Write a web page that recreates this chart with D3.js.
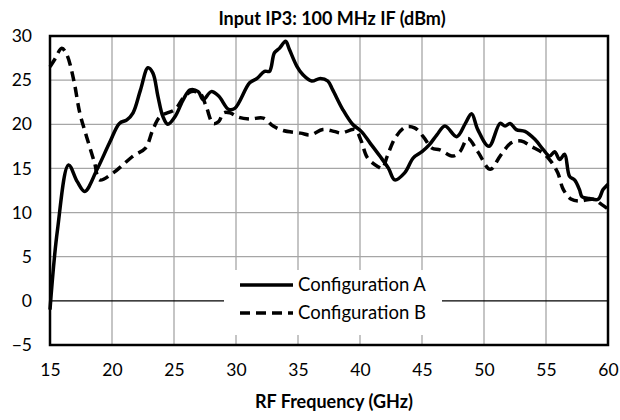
<!DOCTYPE html>
<html>
<head>
<meta charset="utf-8">
<script src="https://cdn.jsdelivr.net/npm/d3@7"></script>
<style>
  body { margin: 0; background: #fff; }
  text { font-family: Lato, "Open Sans", sans-serif; fill: #000; }
</style>
</head>
<body>
<div id="chart"></div>
<script>
// RF frequency (GHz) and input IP3 (dBm)
const freqA = [15, 15.6, 16.5, 17.2, 17.8, 18.8, 19.8, 20.6, 21.2, 21.7, 22.3, 22.9, 23.3, 23.7, 24.1, 24.5, 25.1, 25.75, 26.3, 26.95, 27.35, 28.0, 28.6, 29.4, 29.9, 31.1, 31.7, 32.3, 32.7, 33.1, 33.5, 34.0, 34.3, 34.9, 35.4, 36.1, 36.8, 37.4, 37.8, 38.6, 39.4, 40.1, 40.8, 41.6, 42.3, 42.8, 43.6, 44.3, 45.0, 45.6, 46.2, 46.85, 47.8, 48.5, 49.0, 49.5, 50.4, 51.3, 51.7, 52.1, 52.6, 53.3, 54.1, 54.8, 55.3, 55.7, 56.1, 56.5, 56.9, 57.3, 57.7, 57.9, 58.5, 59.2, 59.6, 60];
const ip3A = [-1, 8, 15.4, 13.5, 12.4, 14.9, 17.9, 20.1, 20.5, 21.3, 23.9, 26.4, 25.8, 23.2, 20.9, 20.0, 20.9, 22.8, 23.9, 23.7, 22.8, 23.7, 23.2, 21.7, 21.8, 24.7, 25.2, 26.0, 26.0, 28.1, 28.6, 29.4, 28.5, 26.6, 25.6, 24.9, 25.2, 24.9, 23.9, 21.7, 20.0, 19.2, 17.9, 16.4, 15.0, 13.7, 14.5, 16.2, 16.9, 17.7, 18.8, 19.8, 18.6, 20.1, 21.2, 19.4, 17.5, 20.1, 19.8, 20.1, 19.4, 19.2, 18.3, 17.1, 16.4, 16.9, 16.0, 16.6, 14.1, 13.7, 12.6, 11.8, 11.6, 11.5, 12.6, 13.2];

const freqB = [15, 15.4, 15.95, 16.35, 16.9, 17.4, 17.95, 18.6, 19.0, 20.1, 21.7, 22.7, 23.3, 23.9, 25.1, 25.75, 26.4, 27.1, 27.6, 28.15, 28.6, 29.0, 29.5, 30.2, 31.1, 32.2, 33.0, 33.8, 35.2, 36.0, 37.0, 37.9, 38.5, 39.6, 40.1, 40.6, 41.45, 41.8, 42.2, 42.9, 43.7, 44.4, 45.1, 45.8, 46.45, 47.5, 48.06, 48.7, 49.5, 50.5, 51.3, 52.2, 53.0, 53.8, 54.8, 55.4, 55.95, 56.4, 57.05, 57.7, 58.8, 59.5, 60];
const ip3B = [26.5, 27.4, 28.6, 27.9, 25.1, 21.3, 18.6, 15.6, 13.7, 14.5, 16.4, 17.3, 19.4, 20.9, 21.7, 23.0, 23.7, 23.5, 22.0, 20.1, 20.3, 21.3, 21.3, 20.8, 20.6, 20.7, 19.8, 19.3, 19.0, 18.8, 19.4, 19.2, 19.0, 19.4, 18.1, 16.2, 15.2, 15.0, 16.4, 18.6, 19.7, 19.6, 18.6, 17.3, 17.1, 16.4, 16.9, 18.4, 16.9, 14.9, 16.4, 17.9, 18.1, 17.5, 16.7, 15.8, 14.5, 12.6, 11.5, 11.3, 11.5, 10.9, 10.4];

const xTicks = [15, 20, 25, 30, 35, 40, 45, 50, 55, 60];
const yTicks = [-5, 0, 5, 10, 15, 20, 25, 30];
const seriesNames = ["Configuration A", "Configuration B"];

const width = 620, height = 420;
const plot = { left: 50, right: 608, top: 36, bottom: 345 };

const svg = d3.select("#chart").append("svg")
    .attr("width", width)
    .attr("height", height);

const x = d3.scaleLinear().domain([15, 60]).range([plot.left, plot.right]);
const y = d3.scaleLinear().domain([-5, 30]).range([plot.bottom, plot.top]);

// gridlines
svg.append("g")
    .selectAll("line.vgrid")
    .data(xTicks.slice(1, -1))
    .join("line")
    .attr("x1", d => x(d)).attr("x2", d => x(d))
    .attr("y1", plot.top).attr("y2", plot.bottom)
    .attr("stroke", "#a6a6a6").attr("stroke-width", 1.3);

svg.append("g")
    .selectAll("line.hgrid")
    .data(yTicks.filter(d => d !== 0 && d !== -5 && d !== 30))
    .join("line")
    .attr("x1", plot.left).attr("x2", plot.right)
    .attr("y1", d => y(d)).attr("y2", d => y(d))
    .attr("stroke", "#a6a6a6").attr("stroke-width", 1.3);

// zero line
svg.append("line")
    .attr("x1", plot.left).attr("x2", plot.right)
    .attr("y1", y(0)).attr("y2", y(0))
    .attr("stroke", "#000").attr("stroke-width", 1.3);

// legend background knocks out the grid
const legend = svg.append("g");
legend.append("rect")
    .attr("x", 224).attr("y", 270)
    .attr("width", 218).attr("height", 65)
    .attr("fill", "#fff");

// series
const line = d3.line()
    .x(d => x(d[0]))
    .y(d => y(d[1]))
    .curve(d3.curveCatmullRom.alpha(0.5));

svg.append("path")
    .datum(freqB.map((f, i) => [f, ip3B[i]]))
    .attr("d", line)
    .attr("fill", "none")
    .attr("stroke", "#000")
    .attr("stroke-width", 3.5)
    .attr("stroke-dasharray", "10,6");

svg.append("path")
    .datum(freqA.map((f, i) => [f, ip3A[i]]))
    .attr("d", line)
    .attr("fill", "none")
    .attr("stroke", "#000")
    .attr("stroke-width", 3.5)
    .attr("stroke-linejoin", "round");

// plot border
svg.append("rect")
    .attr("x", plot.left).attr("y", plot.top)
    .attr("width", plot.right - plot.left)
    .attr("height", plot.bottom - plot.top)
    .attr("fill", "none")
    .attr("stroke", "#000")
    .attr("stroke-width", 2.5);

// axes
const xAxis = svg.append("g")
    .attr("transform", `translate(0,${plot.bottom})`)
    .call(d3.axisBottom(x).tickValues(xTicks).tickSize(0).tickPadding(19));
xAxis.select(".domain").remove();
xAxis.selectAll("text").attr("font-size", 17.5).style("font-family", "Lato, sans-serif");

const yAxis = svg.append("g")
    .attr("transform", `translate(${plot.left},0)`)
    .call(d3.axisLeft(y).tickValues(yTicks).tickSize(0).tickPadding(18));
yAxis.select(".domain").remove();
yAxis.selectAll("text").attr("font-size", 17.5).style("font-family", "Lato, sans-serif");

// legend entries
seriesNames.forEach((name, i) => {
    const ly = 285 + i * 28;
    legend.append("line")
        .attr("x1", 240).attr("x2", 293)
        .attr("y1", ly).attr("y2", ly)
        .attr("stroke", "#000")
        .attr("stroke-width", 3.5)
        .attr("stroke-dasharray", i === 1 ? "10,6" : null);
    legend.append("text")
        .attr("x", 298).attr("y", ly)
        .attr("dy", "0.35em")
        .attr("font-size", 18.5)
        .text(name);
});

// titles
svg.append("text")
    .attr("x", 332)
    .attr("y", 25)
    .attr("text-anchor", "middle")
    .attr("font-size", 18)
    .attr("font-weight", "bold")
    .text("Input IP3: 100 MHz IF (dBm)");

svg.append("text")
    .attr("x", 334)
    .attr("y", 408)
    .attr("text-anchor", "middle")
    .attr("font-size", 18)
    .attr("font-weight", "bold")
    .text("RF Frequency (GHz)");
</script>
</body>
</html>
